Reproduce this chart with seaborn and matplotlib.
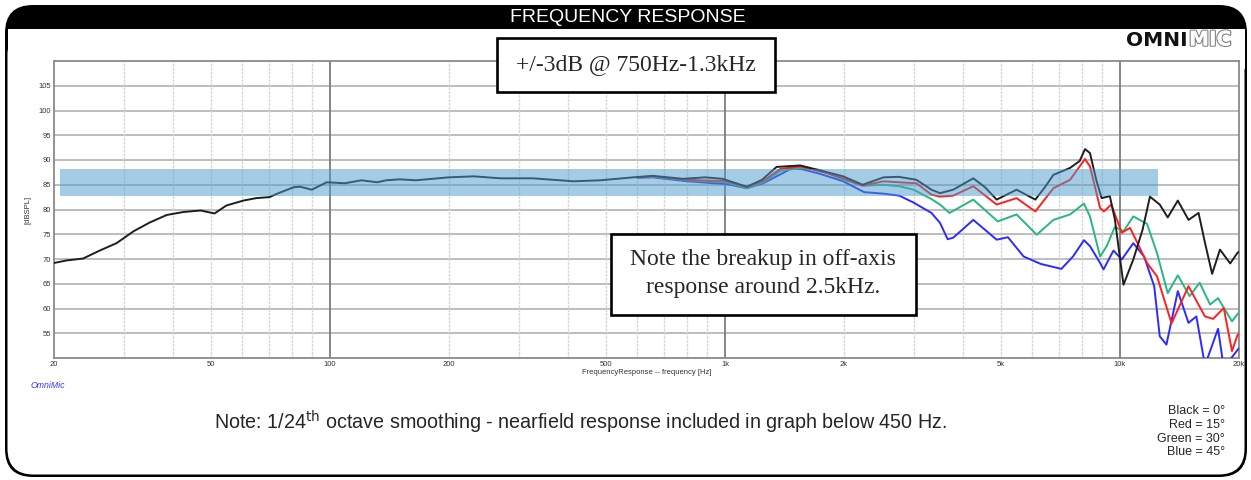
"""Frequency response plot, on-axis and off-axis, OmniMic style."""

import numpy as np
import pandas as pd
import matplotlib.pyplot as plt
import seaborn as sns
from matplotlib.patches import FancyBboxPatch, Rectangle
import matplotlib.patheffects as pe


# ---- data ----
black_hz = [20, 21.5, 23.7, 26.1, 28.8, 31.8, 35, 38.6, 42.6, 47, 51, 54.6, 60.3, 65, 70.2, 74,
            80.9, 84, 89.9, 98, 109, 120, 131.6, 138.7, 150, 165, 200, 231, 270, 326, 413, 483,
            586, 656, 782, 890, 985, 1135, 1240, 1350, 1550, 1820, 1990, 2230, 2520, 2750, 3050,
            3330, 3500, 3780, 4250, 4550, 4870, 5470, 6100, 6450, 6780, 7470, 7900, 8150, 8390,
            8700, 8980, 9420, 9700, 10200, 10800, 11400, 11900, 12600, 13200, 14000, 14900,
            15800, 16400, 17100, 17900, 19000, 19800, 20000]
black_db = [69.2, 69.7, 70.1, 71.7, 73.2, 75.6, 77.4, 78.9, 79.5, 79.8, 79.2, 80.8, 81.8, 82.3, 82.5, 83.3,
            84.5, 84.6, 84.0, 85.5, 85.3, 85.9, 85.5, 85.9, 86.1, 85.9, 86.5, 86.7, 86.3, 86.3, 85.7, 85.9,
            86.5, 86.8, 86.2, 86.5, 86.2, 84.6, 86.0, 88.6, 88.9, 87.5, 86.7, 85.0, 86.5, 86.6, 86.0,
            84.0, 83.3, 84.0, 86.3, 84.5, 82.0, 84.0, 82.0, 84.5, 87.0, 88.4, 89.8, 92.2, 91.4,
            86.0, 82.3, 82.7, 78.0, 64.8, 69.9, 75.9, 82.6, 81.0, 78.4, 81.8, 77.9,
            79.3, 73.3, 67.0, 71.9, 69.1, 71.2, 71.5]

red_hz = [600, 656, 801, 938, 1000, 1135, 1250, 1380, 1557, 1820, 1990, 2230, 2520, 2750, 3050,
          3330, 3500, 3780, 4250, 4870, 5470, 6100, 6780, 7470, 8150, 8390, 8900, 9100, 9500,
          10100, 10600, 11700, 12400, 13500, 14900, 16400, 17200, 18300, 19200, 19800, 20000]
red_db = [86.5, 86.7, 86.0, 85.8, 85.8, 84.5, 85.8, 88.2, 88.7, 87.3, 86.3, 84.8, 85.7, 85.5, 85.3,
          83.0, 82.6, 82.8, 84.7, 81.0, 82.3, 79.6, 84.3, 86.0, 90.2, 88.7, 80.3, 79.6, 81.0,
          75.3, 76.3, 69.2, 66.5, 57.0, 64.5, 58.4, 57.9, 60.1, 51.4, 54.5, 55.0]

green_hz = [600, 656, 801, 938, 1000, 1135, 1250, 1380, 1557, 1740, 1990, 2250, 2520, 2760, 3000,
            3330, 3500, 3700, 4250, 4900, 5470, 6150, 6780, 7470, 8100, 8390, 8900, 9250, 9700,
            10200, 10800, 11700, 12400, 13200, 14000, 15000, 15900, 16900, 17700, 19200, 19800, 20000]
green_db = [86.5, 86.6, 85.9, 85.6, 85.5, 84.3, 85.5, 87.8, 88.4, 88.0, 86.0, 84.8, 85.0, 84.7, 84.0,
            82.1, 81.0, 79.3, 82.0, 77.6, 79.0, 74.9, 77.9, 79.0, 81.2, 78.6, 70.5, 72.6, 76.5,
            75.6, 78.6, 77.1, 71.2, 63.1, 66.7, 62.5, 65.2, 60.8, 62.1, 57.4, 58.8, 59.2]

blue_hz = [600, 656, 801, 938, 1000, 1135, 1250, 1466, 1557, 1740, 1990, 2250, 2520, 2760, 3000,
           3330, 3500, 3660, 3780, 4250, 4870, 5200, 5700, 6300, 7100, 7600, 8100, 8390, 8900,
           9080, 9620, 10100, 10800, 11500, 12200, 12600, 13100, 14000, 14900, 15600, 16400,
           17700, 18300, 19600, 20000]
blue_db = [86.4, 86.5, 85.7, 85.3, 85.2, 84.3, 85.3, 88.2, 88.2, 87.2, 85.7, 83.5, 83.2, 82.8, 81.4,
           79.3, 77.3, 74.0, 74.3, 77.9, 73.9, 74.4, 70.5, 69.0, 68.0, 70.5, 73.8, 72.6, 69.2,
           67.9, 71.7, 69.9, 73.2, 70.5, 64.5, 54.4, 52.7, 63.5, 57.1, 58.4, 48.5,
           55.9, 48.0, 51.1, 52.0]

angles = ['0', '15', '30', '45']
angle_colors = ['#1e1e1e', '#ff1f1f', '#25b882', '#2b2bff']
legend_lines = ['Black = 0°', 'Red = 15°', 'Green = 30°', 'Blue = 45°']

# +/-3dB window
band_hz = [20.7, 12500]
band_db = (82.8, 88.2)

x_ticks = [20, 50, 100, 200, 500, 1000, 2000, 5000, 10000, 20000]
x_tick_labels = ['20', '50', '100', '200', '500', '1k', '2k', '5k', '10k', '20k']
y_ticks = [55, 60, 65, 70, 75, 80, 85, 90, 95, 100, 105]


def make_frame(bg):
   """Rounded black frame with a title bar, drawn in pixel units."""
   bg.add_patch(FancyBboxPatch((5, 5), 1242, 472, boxstyle='round,pad=0,rounding_size=28',
                               fc='black', ec='black', lw=0))
   bg.add_patch(FancyBboxPatch((7.5, 29), 1237, 445.5, boxstyle='round,pad=0,rounding_size=26',
                               fc='white', ec='none'))
   bg.add_patch(Rectangle((7.5, 29), 1237, 40, fc='white', ec='none'))
   bg.text(628, 17, 'FREQUENCY RESPONSE', color='white', fontsize=14,
           ha='center', va='center')
   bg.text(1188, 40, 'OMNI', color='#111111', fontsize=14.5, fontweight='heavy',
           ha='right', va='center', fontfamily='DejaVu Sans')
   bg.text(1189, 40, 'MIC', color='white', fontsize=14.5, fontweight='heavy',
           ha='left', va='center', fontfamily='DejaVu Sans',
           path_effects=[pe.withStroke(linewidth=1.8, foreground='#808080'), pe.Normal()])
   bg.text(31, 386, 'OmniMic', color='#3535ff', fontsize=6.3, style='italic',
           ha='left', va='center')


def main():
   rows = []
   for angle, hz, db in zip(angles, [black_hz, red_hz, green_hz, blue_hz],
                            [black_db, red_db, green_db, blue_db]):
      rows.append(pd.DataFrame({'freq': hz, 'spl': db, 'angle': angle}))
   df = pd.concat(rows, ignore_index=True)

   sns.set_theme(style='white')
   plt.rcParams['font.family'] = ['Liberation Sans', 'DejaVu Sans']

   fig = plt.figure(figsize=(12.51, 4.8), dpi=100)

   bg = fig.add_axes([0, 0, 1, 1], zorder=0)
   bg.set_xlim(0, 1251)
   bg.set_ylim(480, 0)
   bg.axis('off')
   make_frame(bg)

   ax = fig.add_axes([54 / 1251, 1 - 358 / 480, 1185 / 1251, 297 / 480], zorder=1)
   ax.set_facecolor('white')

   # grid
   for y in y_ticks:
      ax.axhline(y, color='#b8b8b8', lw=1.3, zorder=1)
   for d in [1, 2, 3]:
      for k in range(2, 10):
         f = k * 10 ** d
         if 20 < f < 20000:
            ax.axvline(f, color='#d6d6d6', lw=1.0, ls=(0, (2, 0.8)), zorder=1)
   for f in [100, 1000, 10000]:
      ax.axvline(f, color='#7c7c7c', lw=1.3, zorder=1)

   sns.lineplot(data=df, x='freq', y='spl', hue='angle', hue_order=angles[::-1],
                palette=dict(zip(angles, angle_colors)), estimator=None, sort=False,
                lw=1.4, legend=False, ax=ax, zorder=3)

   ax.fill_between(band_hz, band_db[0], band_db[1], color='#4d9bcd', alpha=0.5,
                   lw=0, zorder=5)

   ax.set_xscale('log')
   ax.set_xlim(20, 20000)
   ax.set_ylim(50, 110)
   ax.set_xticks(x_ticks)
   ax.set_xticklabels(x_tick_labels)
   ax.minorticks_off()
   ax.set_yticks(y_ticks)
   ax.set_yticklabels([str(v) for v in y_ticks])
   ax.tick_params(length=0, labelsize=5.5, labelcolor='#333333', pad=2)
   ax.set_xlabel('FrequencyResponse -- frequency [Hz]', fontsize=5.5, color='#333333', labelpad=1)
   ax.set_ylabel('[dBSPL]', fontsize=5.5, color='#333333', labelpad=5)
   for s in ax.spines.values():
      s.set_color('#8a8a8a')
      s.set_linewidth(1.3)

   # annotation boxes on top
   fg = fig.add_axes([0, 0, 1, 1], zorder=2)
   fg.set_xlim(0, 1251)
   fg.set_ylim(480, 0)
   fg.axis('off')
   fg.patch.set_alpha(0)
   fg.add_patch(Rectangle((497, 37.5), 278, 54.5, fc='white', ec='black', lw=1.9))
   fg.text(636, 65, '+/-3dB @ 750Hz-1.3kHz', fontfamily='Liberation Serif', fontsize=17,
           ha='center', va='center')
   fg.add_patch(Rectangle((610.5, 233.5), 305, 81.5, fc='white', ec='black', lw=1.9))
   fg.text(763, 260, 'Note the breakup in off-axis', fontfamily='Liberation Serif',
           fontsize=17, ha='center', va='center')
   fg.text(763, 287, 'response around 2.5kHz.', fontfamily='Liberation Serif',
           fontsize=17, ha='center', va='center')

   fg.text(581, 422, r'Note: 1/24$^{\mathrm{th}}$ octave smoothing - nearfield response '
           'included in graph below 450 Hz.', fontsize=14.2, ha='center', va='center')
   for i, line in enumerate(legend_lines):
      fg.text(1225, 411 + i * 13.8, line, fontsize=9, ha='right', va='center')

   fig.savefig('out.png', dpi=100)


if __name__ == '__main__':
   main()
